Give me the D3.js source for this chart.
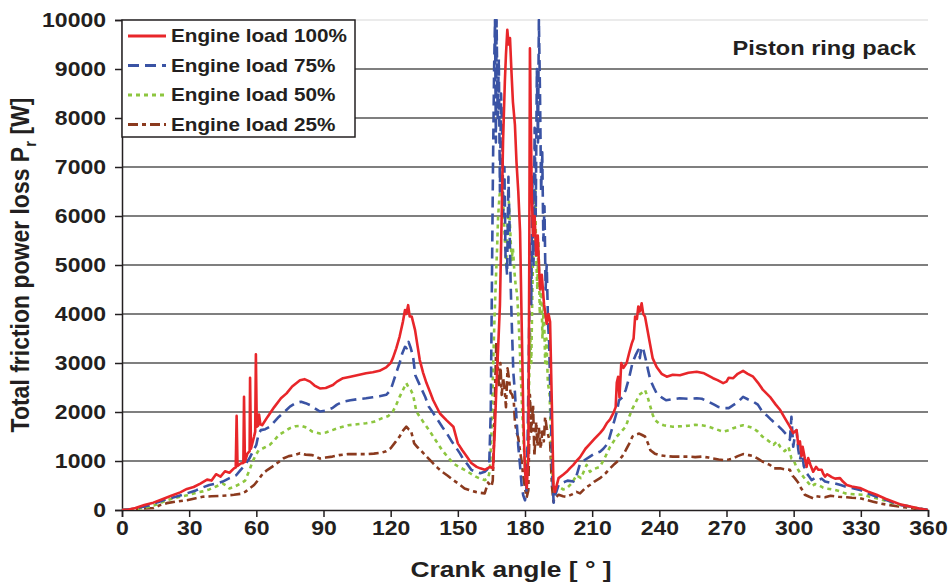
<!DOCTYPE html>
<html>
<head>
<meta charset="utf-8">
<script src="https://cdn.jsdelivr.net/npm/d3@7"></script>
<style>
  body { margin: 0; background: #fff; }
  svg text { font-family: "Liberation Sans", Arial, sans-serif; font-weight: bold; fill: #231f20; }
</style>
</head>
<body>
<div id="chart"></div>
<script>
"use strict";

const xTicks = [0, 30, 60, 90, 120, 150, 180, 210, 240, 270, 300, 330, 360];
const yTicks = [0, 1000, 2000, 3000, 4000, 5000, 6000, 7000, 8000, 9000, 10000];
const seriesNames = ["Engine load 100%", "Engine load 75%", "Engine load 50%", "Engine load 25%"];

// [crank angle, W]
const load100 = [[0,0],[3,10],[6,40],[10,100],[14,150],[18,220],[22,290],[26,360],[29,430],[32,470],[35,540],[38,620],[40,600],[42,730],[44,680],[46,790],[48,760],[50,850],
  [50.8,870],[51.2,1920],[51.6,900],[53,950],[54.2,960],[54.5,2310],[54.9,980],[56,1150],[57,1200],[57.2,2700],[57.6,1250],[59,1500],[59.5,1600],[59.8,3180],[60.2,1700],[60.8,1720],[61.2,1950],[61.8,1750],[62.6,1730],[65,1900],[68,2100],[71,2280],[73.5,2380],[76,2520],[79.5,2650],[81.5,2670],[84,2620],[86,2540],[88.4,2480],[91,2490],[94.2,2550],[96,2620],[98.7,2690],[102,2720],[105,2750],[109,2790],[112,2810],[115,2840],[118,2910],[120,3000],[121,3100],[122.5,3300],[124,3540],[125.5,3850],[126.4,4080],[127,4000],[127.8,4180],[128.5,3950],[129.4,3950],[130.9,3670],[132,3350],[133,3060],[134.5,2800],[136,2590],[137.5,2420],[139,2240],[142,1970],[145,1830],[148,1700],[150,1360],[152,1220],[154,1090],[156,960],[158.4,880],[160,850],[162,820],[164.4,880],
  [165.7,850],[166.5,1600],[167.2,2490],[168,3300],[168.8,4180],[169.5,5800],[170.2,7520],[171,8740],[171.5,9300],[172.1,9800],[172.7,9500],[173.3,9630],[174,8900],[174.6,8330],[175.5,7860],[176.2,7100],[177,6500],[177.8,5680],[178.5,3840],[179.3,1800],[180,780],[180.8,450],[181.5,1120],[181.9,5000],[182.2,9420],[182.6,8000],[183,6500],[183.6,5600],[184.3,6000],[185,5200],[185.7,5600],[186.7,4500],[187.5,4800],[188.5,4200],[189.7,3800],[190.5,4000],[191.2,3840],[192,2140],[192.7,510],[193.4,370],[195,650],[197,720],[198.6,780],[200,850],[201.6,920],[203,1000],[204.6,1080],[207,1250],[209,1350],[211,1450],[213.5,1570],[215,1650],[216.5,1770],[218,1850],[219.4,1970],[220.5,2100],[221,2600],[221.6,2720],[222.2,2300],[223,3000],[224,2900],[225.4,3000],[226.5,3200],[227.7,3400],[228.5,3500],[229.2,3950],[230,3900],[230.6,4150],[231.3,4050],[232.1,4220],[232.8,4000],[233.6,3950],[234.6,3700],[235.8,3400],[237,3100],[238.8,2920],[241,2780],[243.3,2720],[246,2760],[249.2,2750],[253,2800],[256.7,2820],[260,2790],[264,2690],[266,2650],[268.5,2590],[270,2620],[271,2700],[273,2690],[275,2780],[277.4,2840],[279.5,2780],[281.9,2720],[284,2600],[286.3,2450],[289.4,2310],[292,2150],[294,2040],[296,1880],[298.3,1700],[299.8,1570],[300.5,1600],[301.3,1630],[302,1350],[302.8,1400],[303.5,1100],[304,1290],[305,1050],[305.8,880],[306.5,1060],[307.5,920],[308.7,780],[310,880],[311,820],[312.5,820],[313.2,740],[314,680],[315,730],[315.6,710],[317,670],[318.5,640],[320.7,650],[322,580],[323.7,510],[326,480],[329.6,450],[333,380],[337,310],[341,230],[344.5,170],[348,110],[352,70],[356,30],[360,0]];

const load75 = [[0,0],[4,15],[8,50],[12,90],[16,160],[20,220],[24,270],[29,340],[33,400],[36,460],[39,510],[42,540],[45,580],[48,650],[51,710],[53,820],[55,920],[57,1060],[58.5,1200],[60,1330],[61,1550],[62,1630],[64,1650],[66,1700],[68,1800],[70,1900],[72.5,2000],[75,2110],[77.5,2180],[80,2210],[82,2180],[84,2140],[86,2080],[88.4,2010],[91,2030],[94,2080],[96,2150],[98.7,2210],[102,2240],[105,2260],[109,2280],[112,2300],[115,2320],[118,2350],[120,2450],[121,2590],[122.5,2800],[124,3000],[125.2,3200],[126.4,3330],[127.2,3300],[128,3430],[129,3300],[130,3130],[131,2750],[132.5,2600],[134,2450],[135.5,2300],[137,2110],[139,1980],[141,1840],[143,1700],[145,1570],[147,1420],[149,1290],[151,1150],[152.6,1020],[154.5,920],[156,820],[158,780],[160,750],[162,780],[163,820],
  [164,900],[164.7,2000],[165.2,4500],[165.7,7000],[166.2,9000],[166.6,10000],[167,7500],[167.3,10000],[167.8,8000],[168.3,9200],[168.8,6500],[169.3,8500],[169.8,7800],[170.3,6000],[170.8,7000],[171.3,5200],[172,4800],[172.6,6800],[173.1,5800],[173.6,4600],[174.1,3800],[174.8,2800],[175.5,2400],[176.3,1800],[177,1300],[177.8,900],[178.5,500],[179.2,300],[180,200],[180.6,400],[181.2,1500],[181.8,3500],[182.3,5500],[182.8,4200],[183.3,6800],[183.8,5000],[184.3,7800],[184.8,6000],[185.3,9000],[185.8,7500],[186.2,10000],[186.7,8500],[187.2,6500],[187.7,7300],[188.2,5500],[188.7,6200],[189.2,4500],[189.7,5000],[190.3,3800],[190.8,3400],[191.2,2600],[191.8,1500],[192.3,600],[192.8,150],[193.5,300],[195,510],[197,560],[199,600],[201.6,580],[203,700],[204.6,950],[207,1030],[209,1090],[211,1150],[213.5,1190],[215,1250],[217,1360],[218.5,1600],[220,1840],[221,2000],[222,2240],[223.5,2300],[225,2450],[226.5,2700],[228,3000],[229.3,3150],[230.6,3270],[231.3,3100],[232,3330],[233,3250],[234,3060],[235,2850],[236,2650],[237.5,2500],[238.8,2380],[241,2300],[243,2240],[246,2260],[249,2280],[253,2270],[256.7,2280],[259,2270],[262,2210],[264.5,2150],[266.5,2100],[268.5,2080],[271,2080],[273,2140],[275,2200],[277.4,2310],[279.5,2260],[282,2210],[284,2150],[286,2010],[288,1930],[290,1840],[292.5,1740],[295,1630],[297,1530],[298.3,1430],[299,1900],[299.8,1290],[300.5,1500],[301.3,1630],[302,1250],[302.8,1020],[303.7,1220],[304.5,900],[305.8,750],[307,680],[308,610],[309.5,650],[311,610],[312.5,640],[314,580],[316,560],[318.5,540],[321,510],[323,480],[326,450],[329.6,410],[333,340],[337,270],[341,210],[344.5,150],[348,100],[352,70],[356,30],[360,0]];

const load50 = [[0,0],[4,10],[8,30],[12,60],[16,120],[20,200],[24,250],[29,300],[33,350],[36,380],[39,420],[42,480],[45,540],[46.5,500],[48,440],[50,470],[53,540],[55,600],[57,820],[58,950],[59.5,1100],[61,1220],[63,1260],[66,1330],[68,1420],[70,1530],[72.5,1600],[75,1670],[77.5,1710],[80,1720],[82.5,1680],[85,1600],[88.4,1560],[91,1580],[94,1630],[97,1680],[101,1730],[105,1750],[109,1770],[112.5,1800],[116,1870],[119,1920],[121,2010],[122.5,2150],[124,2310],[125.5,2450],[127,2590],[128,2500],[129,2450],[130,2350],[131.5,2010],[133,1900],[135,1770],[137,1640],[139,1500],[141,1360],[143,1220],[145.5,1080],[148,950],[150.5,880],[153,820],[155.5,750],[158,680],[160,640],[162,610],[163.5,650],
  [164.3,800],[165,1500],[165.7,2800],[166.3,3800],[166.9,4600],[167.5,5300],[168,6000],[168.6,6400],[169.2,6630],[169.8,6780],[170.3,6200],[171,5500],[171.6,5000],[172.2,5800],[172.8,6290],[173.3,5800],[174,5100],[174.6,5340],[175.2,4900],[175.8,4600],[176.5,4400],[177.2,3800],[177.8,3160],[178.5,2300],[179.3,1470],[180,850],[180.7,600],[181.3,1200],[181.8,2500],[182.3,3600],[182.8,3000],[183.3,4500],[183.8,5600],[184.2,6200],[184.5,6560],[185,5200],[185.5,4500],[186,5500],[186.6,4000],[187.2,4700],[187.8,3500],[188.4,4200],[189,3000],[189.6,3500],[190.2,2600],[191,2350],[191.8,1120],[192.5,600],[193,440],[195,480],[197,420],[198.6,440],[201,550],[203,710],[205,650],[207.5,920],[209,780],[211,840],[213.5,880],[216,1100],[218,1290],[221,1500],[223,1600],[225,1700],[226.5,1900],[228,2070],[229.5,2200],[231,2350],[232.5,2400],[233.6,2450],[234.8,2300],[235.8,2140],[237,1950],[238,1840],[240,1760],[242,1730],[246,1700],[250,1710],[253,1720],[256,1740],[259,1730],[262,1700],[264,1670],[266.5,1630],[268.5,1600],[271,1630],[273,1670],[275,1700],[277.4,1730],[280,1700],[282,1670],[284,1600],[286,1500],[288.5,1420],[291,1330],[292.5,1400],[294,1290],[296,1200],[297.7,1290],[299,1050],[300,1020],[301,900],[302,820],[303,750],[304.3,680],[306,580],[308,480],[309.5,530],[311,510],[313,460],[314,440],[316,430],[318.5,410],[321,380],[323,340],[327,320],[331,310],[334,270],[337,240],[341,190],[344.5,140],[348,100],[352,70],[356,30],[360,0]];

const load25 = [[0,0],[5,10],[10,30],[14,40],[17,100],[20,140],[24,170],[29,200],[33,240],[36,270],[40,280],[45,290],[50,310],[53,330],[55,370],[57,440],[59,510],[61,620],[63,750],[65,820],[67,880],[70,980],[72,1050],[74.5,1100],[77,1120],[79.5,1160],[82,1130],[85,1120],[88.4,1050],[91,1070],[94,1090],[97,1120],[101,1140],[105,1140],[109,1140],[112.5,1150],[116,1170],[118,1200],[120,1260],[122,1380],[124,1500],[125.5,1620],[127,1700],[128,1650],[129,1630],[130,1450],[130.5,1360],[132,1280],[134,1190],[136.5,1070],[139,950],[141,860],[143,780],[145.5,700],[148,610],[150.5,530],[153,440],[155.5,400],[158,370],[160,350],[162,340],[163.5,560],[164.4,510],[165,480],
  [165.6,600],[166.2,1500],[166.7,2600],[167.2,3430],[167.8,2960],[168.4,2500],[169,3000],[169.6,2350],[170.2,2700],[170.8,2500],[171.5,2100],[172.2,2890],[172.8,2700],[173.5,2400],[174.3,2350],[175,2210],[175.5,1800],[176.2,1600],[177,1470],[177.6,1260],[178.5,990],[179.2,700],[180,450],[180.7,250],[181.5,400],[182.2,2350],[182.8,1600],[183.6,2150],[184.2,1100],[185,1800],[185.6,1300],[186.3,1700],[187,1250],[187.7,1600],[188.4,1400],[189,1900],[189.7,1670],[190.5,1500],[191.2,1400],[192,510],[192.7,170],[193.5,250],[195,310],[197,280],[198.6,270],[201,320],[203,370],[204.6,340],[207,450],[209,510],[211,580],[213.5,650],[216,750],[218,850],[220,940],[222,1020],[223.5,1100],[225,1220],[226.5,1350],[228,1500],[229.5,1540],[231,1560],[232.3,1530],[233.6,1500],[235,1350],[236,1220],[238,1150],[240,1120],[243,1100],[246,1090],[250,1090],[253,1090],[256,1080],[259,1090],[262,1070],[264,1050],[266.5,1030],[268.5,1020],[271,1030],[273,1050],[275,1100],[277.4,1140],[280,1120],[282,1100],[284,1050],[286,990],[289.4,920],[291,850],[294,850],[296,830],[298.3,820],[299.5,700],[300.5,650],[302,560],[302.8,480],[304,400],[305,310],[307,270],[308.7,240],[310,280],[311.7,270],[314,260],[316.5,290],[320,270],[323.7,260],[326,250],[329.6,240],[333,200],[335.5,170],[339,130],[343,100],[347,70],[350.4,50],[355,20],[360,0]];

const styles = [
  { color: "#e8262a", dash: null },
  { color: "#3a53a4", dash: "11,6" },
  { color: "#8dc63f", dash: "4,4" },
  { color: "#8b3a1e", dash: "10,4,4,4" },
];

const SX = 1.15; // the figure's text is a bit wider than plain Arial

window.addEventListener("load", draw);

// widen a text horizontally around its own anchor point
function widen(sel, sx) {
  sel.attr("transform", function () {
    const tx = +this.getAttribute("x") || 0;
    return `translate(${tx},0) scale(${sx},1) translate(${-tx},0)`;
  });
}

function draw() {
  const W = 949, H = 583;
  const m = { left: 122, right: 21, top: 20, bottom: 73 };
  const svg = d3.select("#chart").append("svg").attr("width", W).attr("height", H);

  const x = d3.scaleLinear().domain([0, 360]).range([m.left, W - m.right]);
  const y = d3.scaleLinear().domain([0, 10000]).range([H - m.bottom, m.top]);

  svg.append("defs").append("clipPath").attr("id", "clip")
    .append("rect")
    .attr("x", m.left).attr("y", m.top - 1)
    .attr("width", W - m.right - m.left).attr("height", H - m.bottom - m.top + 1);

  // grid
  svg.append("g").selectAll("line")
    .data(yTicks.slice(1))
    .enter().append("line")
    .attr("x1", x(0)).attr("x2", x(360))
    .attr("y1", (d) => y(d)).attr("y2", (d) => y(d))
    .attr("stroke", (d) => (d === 10000 ? "#d8d8d8" : "#000"))
    .attr("stroke-width", 1.2);

  // axes
  const yAxis = svg.append("g")
    .attr("transform", `translate(${m.left},0)`)
    .call(d3.axisLeft(y).tickValues(yTicks).tickSize(7).tickPadding(9).tickFormat(d3.format("d")));
  const xAxis = svg.append("g")
    .attr("transform", `translate(0,${y(0)})`)
    .call(d3.axisBottom(x).tickValues(xTicks).tickSize(7).tickPadding(4));
  [xAxis, yAxis].forEach((a) => {
    a.select(".domain").attr("stroke", "#231f20").attr("stroke-width", 1.5);
    a.selectAll(".tick line").attr("stroke", "#231f20").attr("stroke-width", 1.5);
    a.selectAll("text").style("font-size", "20px").attr("fill", "#231f20").call(widen, SX);
  });

  // lines
  const line = d3.line().x((d) => x(d[0])).y((d) => y(d[1]));
  const all = [load100, load75, load50, load25];
  const plot = svg.append("g").attr("clip-path", "url(#clip)");
  // draw 25% first so that 100% is on top
  for (let i = all.length - 1; i >= 0; i--) {
    plot.append("path")
      .datum(all[i])
      .attr("d", line)
      .attr("fill", "none")
      .attr("stroke", styles[i].color)
      .attr("stroke-width", 2.6)
      .attr("stroke-linejoin", "round")
      .attr("stroke-dasharray", styles[i].dash);
  }

  // legend
  const lg = svg.append("g");
  lg.append("rect")
    .attr("x", m.left).attr("y", m.top)
    .attr("width", 233).attr("height", 117)
    .attr("fill", "#fff").attr("stroke", "#231f20").attr("stroke-width", 1.5);
  seriesNames.forEach((name, i) => {
    const ly = 36 + i * 29.5;
    lg.append("line")
      .attr("x1", 128).attr("x2", 166).attr("y1", ly).attr("y2", ly)
      .attr("stroke", styles[i].color).attr("stroke-width", 2.8)
      .attr("stroke-dasharray", styles[i].dash);
    lg.append("text")
      .attr("x", 171).attr("y", ly + 6.5)
      .style("font-size", "18px")
      .text(name)
      .call(widen, SX);
  });

  svg.append("text")
    .attr("x", 916).attr("y", 55)
    .attr("text-anchor", "end")
    .style("font-size", "20px")
    .text("Piston ring pack")
    .call(widen, 1.18);

  svg.append("text")
    .attr("x", 511).attr("y", 577)
    .attr("text-anchor", "middle")
    .style("font-size", "22px")
    .text("Crank angle [ \u00b0 ]")
    .call(widen, 1.2);

  const yt = svg.append("text")
    .attr("transform", `translate(29,265) scale(${SX},1) rotate(-90)`)
    .attr("text-anchor", "middle")
    .style("font-size", "23px");
  yt.append("tspan").text("Total friction power loss P");
  yt.append("tspan").attr("dy", 6).style("font-size", "15px").text("r");
  yt.append("tspan").attr("dy", -6).text(" [W]");
}
</script>
</body>
</html>
